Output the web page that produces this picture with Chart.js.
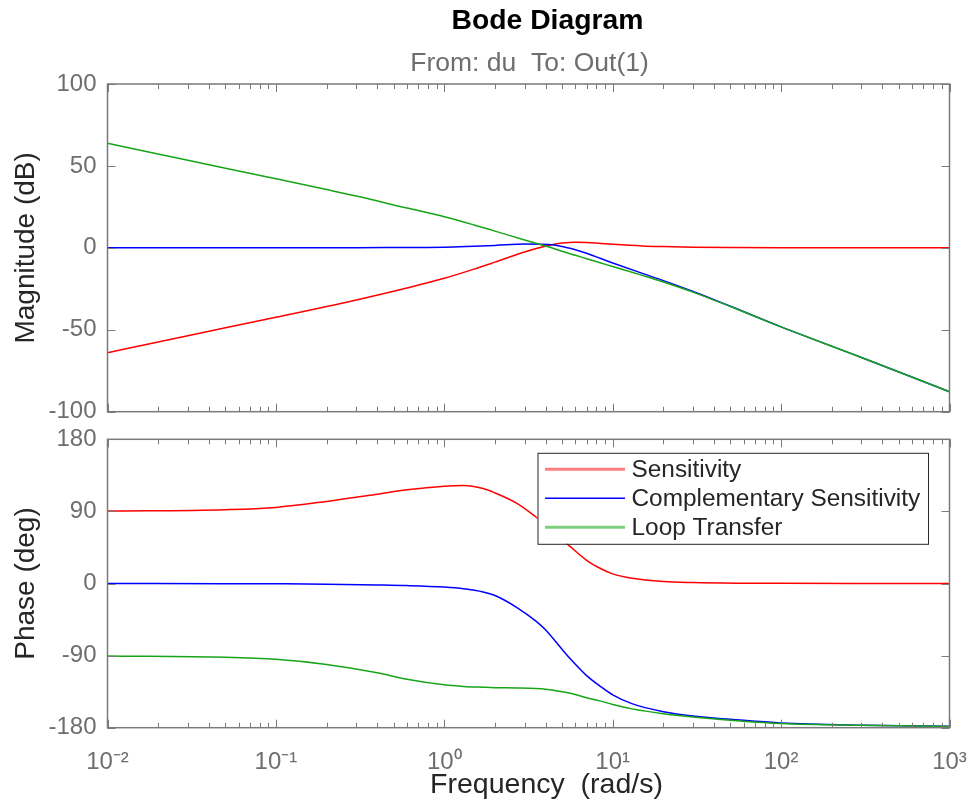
<!DOCTYPE html>
<html>
<head>
<meta charset="utf-8">
<title>Bode Diagram</title>
<script src="https://cdn.jsdelivr.net/npm/chart.js@4.4.1/dist/chart.umd.min.js"></script>
<style>
  html, body { margin: 0; padding: 0; background: #fff; }
  #wrap { position: relative; width: 975px; height: 807px; overflow: hidden; }
  canvas { position: absolute; left: 0; }
  #mag { top: 0; }
  #phase { top: 410px; }
</style>
</head>
<body>
<div id="wrap">
  <canvas id="mag" width="975" height="430"></canvas>
  <canvas id="phase" width="975" height="397"></canvas>
</div>
<script>
// frequencies (rad/s) the magnitude curves were read at
const magFreq = [0.01, 0.03, 0.1, 0.3, 0.6, 1, 1.5, 2, 3, 3.8, 4.5, 5, 6, 7, 8.5, 10, 15, 20, 30, 50, 100, 300, 1000];
// magnitude in dB
const sensMag = [-64.0, -53.6, -42.4, -31.8, -24.5, -18.6, -13.0, -8.7, -2.5, 0.5, 2.2, 2.9, 3.4, 3.3, 2.7, 2.2, 1.2, 0.8, 0.4, 0.15, 0.05, 0, 0];
const compMag = [0, 0, 0, 0.03, 0.26, 0.4, 1.0, 1.5, 2.3, 2.2, 1.7, 0.8, -1.1, -3.3, -6.5, -9.2, -15.6, -20.0, -26.6, -35.65, -48.2, -66.9, -87.8];
const loopMag = [63.8, 53.4, 42.2, 31.6, 24.3, 19.0, 14.0, 10.2, 4.8, 1.7, -0.5, -2.1, -4.5, -6.6, -9.2, -11.4, -16.8, -20.8, -27.0, -35.8, -48.2, -66.9, -87.8];

// frequencies (rad/s) the phase curves were read at
const phaseFreq = [0.01, 0.05, 0.1, 0.2, 0.4, 0.6, 1, 1.3, 1.7, 2, 2.7, 3.5, 4, 5, 5.6, 7, 8.4, 10, 13, 20, 30, 57, 100, 300, 1000];
// phase in degrees
const sensPhase = [90.4, 92.2, 95, 102.5, 111.5, 117, 121.5, 122.3, 118.5, 113, 100, 83, 73, 55, 46, 29, 19, 12, 6.5, 2.5, 1.2, 0.4, 0.2, 0.05, 0];
const compPhase = [0, -0.2, -0.4, -0.8, -1.8, -2.6, -4.5, -6.5, -10.5, -15, -30, -47, -58, -82, -94, -115, -128, -139, -150, -160, -165.5, -170.5, -174, -176.8, -178.3];
const loopPhase = [-90.4, -92, -94.6, -101, -111.5, -119.5, -126.5, -128.5, -129.5, -130, -130.3, -131, -132, -135, -137, -142.5, -146.5, -151, -156.5, -162.5, -166.5, -171.5, -174.7, -177, -178.5];

const seriesNames = ['Sensitivity', 'Complementary Sensitivity', 'Loop Transfer'];
const xTicks = [0.01, 0.1, 1, 10, 100, 1000];
const magTicks = [-100, -50, 0, 50, 100];
const phaseTicks = [-180, -90, 0, 90, 180];

const colors = ['#ff0000', '#0000ff', '#17a517'];
const tickColor = '#6e6e6e';
const labelColor = '#262626';
const boxColor = '#7a7a7a';
const FAMILY = "'Liberation Sans', Arial, sans-serif";

Chart.defaults.font.family = FAMILY;
Chart.defaults.animation = false;

const supMap = { '-': '\u207B', '0': '\u2070', '1': '\u00B9', '2': '\u00B2', '3': '\u00B3' };
function decadeLabel(v) {
  const e = String(Math.round(Math.log10(v)));
  return '10' + e.split('').map(c => supMap[c]).join('');
}

function toPoints(xs, ys) {
  return xs.map((x, i) => ({ x: x, y: ys[i] }));
}

function makeDatasets(freq, s, t, l) {
  return [s, t, l].map((vals, i) => ({
    label: seriesNames[i],
    data: toPoints(freq, vals),
    borderColor: colors[i],
    borderWidth: 1.5,
    pointRadius: 0,
    fill: false,
    cubicInterpolationMode: 'monotone',
    order: 2 - i
  }));
}

// box round the plot area with inward ticks on all four sides, like MATLAB axes
const boxTicks = {
  id: 'boxTicks',
  afterDatasetsDraw(chart) {
    const { ctx, chartArea: a, scales } = chart;
    ctx.save();
    ctx.strokeStyle = boxColor;
    ctx.lineWidth = 1;
    ctx.beginPath();
    for (let d = -2; d <= 3; d++) {
      for (let m = 1; m <= 9; m++) {
        const v = m * Math.pow(10, d);
        if (v > 1000) break;
        const px = Math.round(scales.x.getPixelForValue(v)) + 0.5;
        const len = m === 1 ? 8 : 5;
        ctx.moveTo(px, a.top);
        ctx.lineTo(px, a.top + len);
        ctx.moveTo(px, a.bottom);
        ctx.lineTo(px, a.bottom - len);
      }
    }
    scales.y.ticks.forEach(t => {
      const py = Math.round(scales.y.getPixelForValue(t.value)) + 0.5;
      ctx.moveTo(a.left, py);
      ctx.lineTo(a.left + 8, py);
      ctx.moveTo(a.right, py);
      ctx.lineTo(a.right - 8, py);
    });
    ctx.stroke();
    ctx.lineWidth = 1.5;
    ctx.strokeRect(a.left, a.top, a.right - a.left, a.bottom - a.top);
    ctx.restore();
  }
};

// title and subtitle; MATLAB puts the title a little right of the axes centre
const headings = {
  id: 'headings',
  afterDraw(chart) {
    const { ctx, chartArea: a } = chart;
    const mid = (a.left + a.right) / 2;
    ctx.save();
    ctx.textAlign = 'center';
    ctx.textBaseline = 'middle';
    ctx.fillStyle = '#000';
    ctx.font = 'bold 28.3px ' + FAMILY;
    ctx.fillText('Bode Diagram', mid + 19, 21);
    ctx.fillStyle = tickColor;
    ctx.font = '26.5px ' + FAMILY;
    ctx.fillText('From: du  To: Out(1)', mid + 1, 64);
    ctx.restore();
  }
};

// x-axis label under the phase axes, offset like the title
const freqLabel = {
  id: 'freqLabel',
  afterDraw(chart) {
    const { ctx, chartArea: a } = chart;
    ctx.save();
    ctx.textAlign = 'center';
    ctx.textBaseline = 'middle';
    ctx.fillStyle = labelColor;
    ctx.font = '28.5px ' + FAMILY;
    ctx.fillText('Frequency  (rad/s)', (a.left + a.right) / 2 + 18, a.bottom + 57);
    ctx.restore();
  }
};

// legend box inside the phase axes (upper right)
const legendBox = {
  id: 'legendBox',
  afterDatasetsDraw(chart) {
    const { ctx, chartArea: a } = chart;
    const w = 390.5, h = 91;
    const left = a.right - 412, top = a.top + 13.5;
    ctx.save();
    ctx.fillStyle = '#fff';
    ctx.fillRect(left, top, w, h);
    ctx.strokeStyle = labelColor;
    ctx.lineWidth = 1;
    ctx.strokeRect(left + 0.5, top + 0.5, w, h);
    const widths = [3, 1.5, 3];
    const alphas = [0.5, 1, 0.55];
    ctx.font = '24.4px ' + FAMILY;
    ctx.textBaseline = 'middle';
    chart.data.datasets.forEach((ds, i) => {
      const y = top + 16.5 + i * 29;
      ctx.globalAlpha = alphas[i];
      ctx.strokeStyle = ds.borderColor;
      ctx.lineWidth = widths[i];
      ctx.beginPath();
      ctx.moveTo(left + 7.5, y);
      ctx.lineTo(left + 87.5, y);
      ctx.stroke();
      ctx.globalAlpha = 1;
      ctx.fillStyle = labelColor;
      ctx.fillText(ds.label, left + 94, y + 1);
    });
    ctx.restore();
  }
};

function xScale(show) {
  return {
    type: 'logarithmic',
    min: 0.01,
    max: 1000,
    display: show,
    afterBuildTicks: s => { s.ticks = xTicks.map(v => ({ value: v })); },
    afterFit: s => {
      if (show) s.height = 79.3;
      s.paddingLeft = 0;
      s.paddingRight = 0;
    },
    grid: { display: false, drawTicks: false },
    border: { display: false },
    ticks: {
      padding: 20,
      color: tickColor,
      font: { size: 24 },
      maxRotation: 0,
      autoSkip: false,
      callback: v => decadeLabel(v)
    }
  };
}

function yScale(ticks, title) {
  return {
    min: ticks[0],
    max: ticks[ticks.length - 1],
    afterBuildTicks: s => { s.ticks = ticks.map(v => ({ value: v })); },
    afterFit: s => {
      s.width = 107.5;
      s.paddingTop = 0;
      s.paddingBottom = 0;
    },
    grid: { display: false, drawTicks: false },
    border: { display: false },
    ticks: { padding: 11, color: tickColor, font: { size: 24 } },
    title: {
      display: true,
      text: title,
      color: labelColor,
      font: { size: 28 },
      padding: { top: 9, bottom: 0 }
    }
  };
}

new Chart(document.getElementById('mag').getContext('2d'), {
  type: 'line',
  data: { datasets: makeDatasets(magFreq, sensMag, compMag, loopMag) },
  options: {
    responsive: false,
    layout: { padding: { top: 84, right: 25.5, bottom: 18.3, left: 0 } },
    plugins: { legend: { display: false }, tooltip: { enabled: false } },
    scales: { x: xScale(false), y: yScale(magTicks, 'Magnitude (dB)') }
  },
  plugins: [boxTicks, headings]
});

new Chart(document.getElementById('phase').getContext('2d'), {
  type: 'line',
  data: { datasets: makeDatasets(phaseFreq, sensPhase, compPhase, loopPhase) },
  options: {
    responsive: false,
    layout: { padding: { top: 29.3, right: 25.5, bottom: 0, left: 0 } },
    plugins: { legend: { display: false }, tooltip: { enabled: false } },
    scales: { x: xScale(true), y: yScale(phaseTicks, 'Phase (deg)') }
  },
  plugins: [boxTicks, legendBox, freqLabel]
});
</script>
</body>
</html>
